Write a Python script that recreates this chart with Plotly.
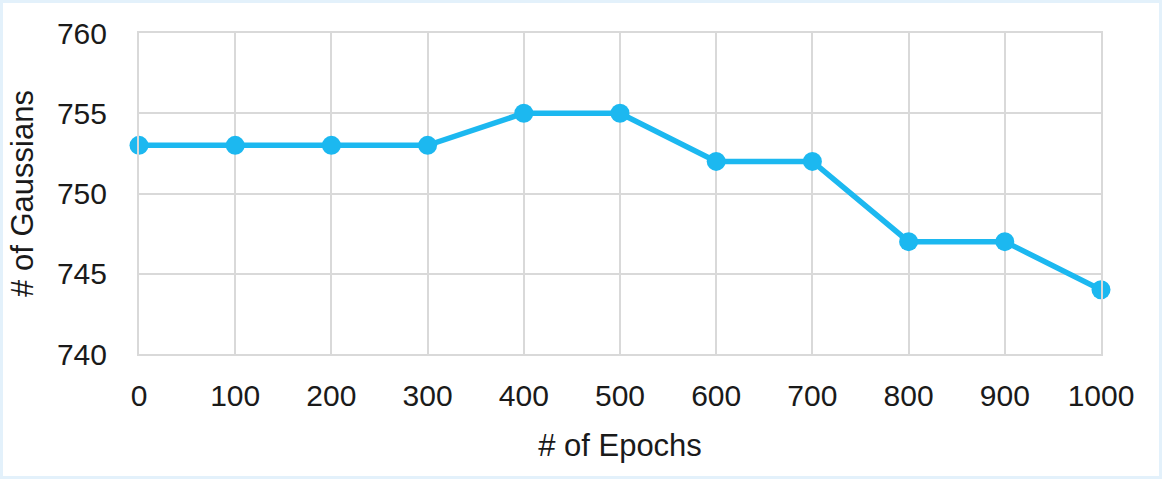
import plotly.graph_objects as go

# data
epochs = [0, 100, 200, 300, 400, 500, 600, 700, 800, 900, 1000]
gaussians = [753, 753, 753, 753, 755, 755, 752, 752, 747, 747, 744]

LINE_BLUE = "#1cb8f0"
GRID = "#d9d9d9"
FONT = "Liberation Sans, Arial, sans-serif"

W, H = 1162, 479
ML, MR, MT, MB = 139, 61, 33, 125
pw = W - ML - MR
ph = H - MT - MB

fig = go.Figure(
    go.Scatter(
        x=epochs, y=gaussians, mode="lines+markers",
        line=dict(color=LINE_BLUE, width=5.5),
        marker=dict(color=LINE_BLUE, size=19),
        cliponaxis=False,
    )
)

fig.update_layout(
    width=W, height=H,
    margin=dict(l=ML, r=MR, t=MT, b=MB),
    paper_bgcolor="white", plot_bgcolor="white",
    font=dict(family=FONT, size=30, color="#1a1a1a"),
    showlegend=False,
)
fig.update_xaxes(
    range=[0, 1000], tickvals=epochs, ticks="",
    showgrid=True, gridcolor=GRID, gridwidth=2,
    showline=True, linecolor=GRID, linewidth=2, mirror=True,
    zeroline=False, ticklabelstandoff=14,
    title=dict(text="# of Epochs", standoff=23, font=dict(size=31)),
)
fig.update_yaxes(
    range=[740, 760], dtick=5, ticks="",
    showgrid=True, gridcolor=GRID, gridwidth=2,
    showline=True, linecolor=GRID, linewidth=2, mirror=True,
    zeroline=False, ticklabelstandoff=24,
    title=dict(text="# of Gaussians", standoff=14, font=dict(size=31)),
)

# thin light-blue frame around the whole picture
fig.add_shape(
    type="rect", xref="paper", yref="paper",
    x0=-(ML - 1.5) / pw, x1=1 + (MR - 1.5) / pw,
    y0=-(MB - 1.5) / ph, y1=1 + (MT - 1.5) / ph,
    line=dict(color="#e3f1fb", width=3), layer="below",
)

fig.write_html(
    "out.html",
    config={"displayModeBar": False},
    post_script="document.body.style.margin='0';",
)
